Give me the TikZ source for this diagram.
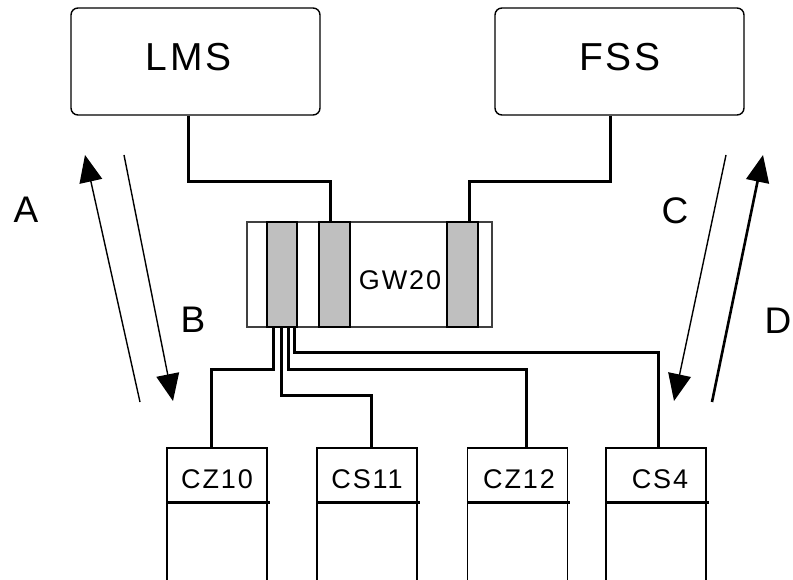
\documentclass[tikz,border=0pt]{standalone}
\usepackage{fontspec}
\setmainfont{Liberation Sans}
\newfontfamily\spacedfont[LetterSpace=7]{Liberation Sans}
\usetikzlibrary{arrows.meta}
\begin{document}
\begin{tikzpicture}[x=1pt,y=-1pt,
  sysbox/.style={draw, line width=1.4pt, rounded corners=7pt, minimum width=249pt, minimum height=107pt, inner sep=0pt},
  gwbox/.style={draw=black!75, line width=1.4pt, minimum width=245pt, minimum height=105pt, inner sep=0pt},
  port/.style={draw, fill=black!25, line width=1.4pt, minimum height=105pt, inner sep=0pt},
  devbox/.style={draw, line width=1.4pt, minimum width=100pt, minimum height=142pt, inner sep=0pt},
  divider/.style={line width=3pt},
  conn/.style={line width=3pt},
  bigtxt/.style={font=\spacedfont\fontsize{39}{44}\selectfont, inner sep=0pt},
  midtxt/.style={font=\spacedfont\fontsize{27}{30}\selectfont, inner sep=0pt},
  flow/.style={line width=1.4pt, -{Triangle[length=27pt,width=23pt]}},
  lbl/.style={font=\fontsize{37}{42}\selectfont, inner sep=0pt}
]
\useasboundingbox (0,0) rectangle (793,580);

% top systems
\node[sysbox] (lms) at (195.5,61.5) {};
\node[bigtxt] (lmst) at (188.5,57.5) {LMS};
\node[sysbox] (fss) at (619.5,61.5) {};
\node[bigtxt] (fsst) at (620,57.5) {FSS};

% gateway
\node[gwbox] (gw) at (369.5,274.5) {};
\node[port, minimum width=30pt] (p1) at (282,274.5) {};
\node[port, minimum width=31pt] (p2) at (334.5,274.5) {};
\node[port, minimum width=31pt] (p3) at (462.5,274.5) {};
\node[midtxt] (gwt) at (400,280) {GW20};

% devices
\node[devbox] (cz10) at (217,519) {};
\node[devbox] (cs11) at (367,519) {};
\node[devbox] (cz12) at (517.5,519) {};
\node[devbox] (cs4) at (656,519) {};
\node[midtxt] (cz10t) at ([yshift=-32pt]cz10.north) {CZ10};
\node[midtxt] (cs11t) at ([yshift=-32pt]cs11.north) {CS11};
\node[midtxt] (cz12t) at ([xshift=1.5pt,yshift=-32pt]cz12.north) {CZ12};
\node[midtxt] (cs4t) at ([xshift=4pt,yshift=-32pt]cs4.north) {CS4};
\foreach \d in {cz10,cs11,cz12,cs4}{
  \draw[divider] ([yshift=-55pt]\d.north west) -- ([xshift=2pt,yshift=-55pt]\d.north east);
}

% connectors to top systems
\draw[conn] ([xshift=-7.5pt]lms.south) -- ++(0,66) -| ([xshift=-4.5pt]p2.north);
\draw[conn] ([xshift=-9.5pt]fss.south) -- ++(0,66) -| ([xshift=6.5pt]p3.north);

% connectors to devices
\draw[conn] ([xshift=-9pt]p1.south) -- ++(0,42) -| ([xshift=-6pt]cz10.north);
\draw[conn] ([xshift=-1pt]p1.south) -- ++(0,68) -| ([xshift=4pt]cs11.north);
\draw[conn] ([xshift=6pt]p1.south) -- ++(0,42) -| ([xshift=8.5pt]cz12.north);
\draw[conn] ([xshift=12pt]p1.south) -- ++(0,25) -| ([xshift=2pt]cs4.north);

% flow arrows
\coordinate (a0) at (140,402);
\coordinate (a1) at (85,155);
\coordinate (b0) at (124,155);
\coordinate (b1) at (173,401);
\coordinate (c0) at (726,155);
\coordinate (c1) at (674,401);
\coordinate (d0) at (712,402);
\coordinate (d1) at (763,155);
\draw[flow] (a0) -- (a1);
\draw[flow] (b0) -- (b1);
\draw[flow] (c0) -- (c1);
\draw[flow, line width=2.6pt] (d0) -- (d1);

\node[lbl] (la) at (26,210) {A};
\node[lbl] (lb) at (193,320) {B};
\node[lbl] (lc) at (675,211) {C};
\node[lbl] (ld) at (778,321) {D};
\end{tikzpicture}
\end{document}
